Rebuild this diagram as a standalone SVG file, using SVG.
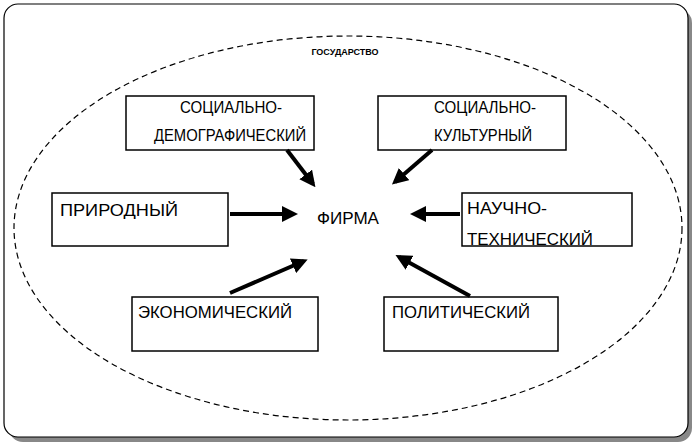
<svg xmlns="http://www.w3.org/2000/svg" width="697" height="448" viewBox="0 0 697 448">
<style>
.box{fill:#fff;stroke:#000;stroke-width:1.5}
.t{font-family:"Liberation Sans",Arial,sans-serif;font-size:16px;fill:#000}
.c{stroke:#000;stroke-width:4;marker-end:url(#ah)}
</style>
<defs><marker id="ah" markerWidth="4" markerHeight="4" refX="3" refY="2" orient="auto"><path d="M0,0L4,2L0,4Z" fill="#000"/></marker></defs>
<rect x="9" y="9" width="683" height="433" rx="14" fill="#888"/>
<rect x="4" y="4" width="684" height="433" rx="14" fill="#fff" stroke="#000" stroke-width="1.2"/>
<ellipse cx="348" cy="228" rx="334" ry="192" fill="none" stroke="#000" stroke-width="1.2" stroke-dasharray="6,4"/>
<text x="345" y="55" text-anchor="middle" font-family="Liberation Sans,Arial,sans-serif" font-size="9" font-weight="bold">ГОСУДАРСТВО</text>
<g id="firm"><text class="t" x="317" y="224" textLength="62" lengthAdjust="spacingAndGlyphs">ФИРМА</text></g>
<g id="n1"><rect class="box" x="126" y="96" width="188" height="54"/><text class="t" x="180" y="113" textLength="102" lengthAdjust="spacingAndGlyphs">СОЦИАЛЬНО-</text><text class="t" x="154" y="141" textLength="152" lengthAdjust="spacingAndGlyphs">ДЕМОГРАФИЧЕСКИЙ</text></g>
<g id="n2"><rect class="box" x="378" y="96" width="188" height="54"/><text class="t" x="434" y="113" textLength="102" lengthAdjust="spacingAndGlyphs">СОЦИАЛЬНО-</text><text class="t" x="434" y="141" textLength="98" lengthAdjust="spacingAndGlyphs">КУЛЬТУРНЫЙ</text></g>
<g id="n3"><rect class="box" x="52" y="193" width="176" height="53"/><text class="t" x="60" y="216" font-size="17" textLength="118" lengthAdjust="spacingAndGlyphs">ПРИРОДНЫЙ</text></g>
<g id="n4"><rect class="box" x="462" y="193" width="170" height="53"/><text class="t" x="467" y="214" textLength="80" lengthAdjust="spacingAndGlyphs">НАУЧНО-</text><text class="t" x="467" y="245" textLength="126" lengthAdjust="spacingAndGlyphs">ТЕХНИЧЕСКИЙ</text></g>
<g id="n5"><rect class="box" x="132" y="297" width="186" height="54"/><text class="t" x="138" y="318" textLength="154" lengthAdjust="spacingAndGlyphs">ЭКОНОМИЧЕСКИЙ</text></g>
<g id="n6"><rect class="box" x="384" y="297" width="174" height="54"/><text class="t" x="392" y="318" textLength="138" lengthAdjust="spacingAndGlyphs">ПОЛИТИЧЕСКИЙ</text></g>
<g id="connectors">
<line class="c" x1="287" y1="150" x2="313" y2="184"/>
<line class="c" x1="432" y1="150" x2="395" y2="182"/>
<line class="c" x1="230" y1="214" x2="294" y2="214"/>
<line class="c" x1="460" y1="214" x2="414" y2="214"/>
<line class="c" x1="230" y1="293" x2="304" y2="261"/>
<line class="c" x1="470" y1="296" x2="399" y2="257"/>
</g>
</svg>
